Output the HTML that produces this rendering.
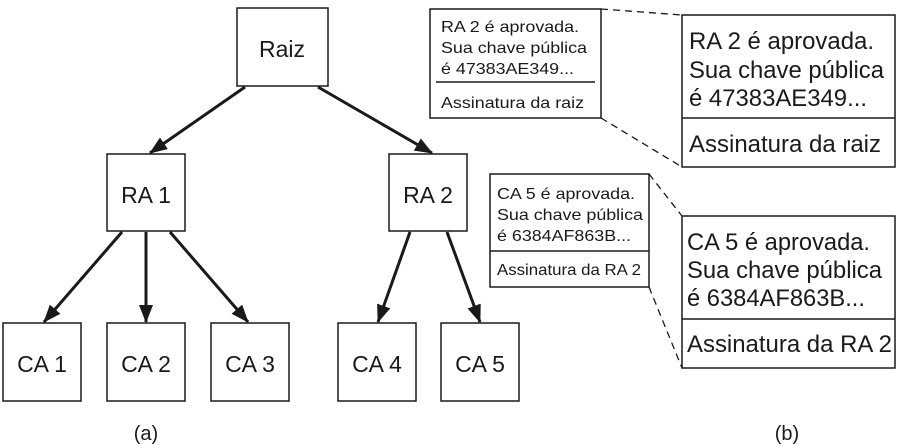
<!DOCTYPE html>
<html><head><meta charset="utf-8"><style>
html,body{margin:0;padding:0;background:#fff;}
svg{display:block;}
text{font-family:"Liberation Sans",sans-serif;fill:#1a1a1a;}
</style></head><body>
<svg width="900" height="445" viewBox="0 0 900 445" xmlns="http://www.w3.org/2000/svg">
<defs>
<marker id="b" markerWidth="18" markerHeight="14" refX="17" refY="7" orient="auto" markerUnits="userSpaceOnUse">
<path d="M0,0 L18,7 L0,14 Z" fill="#1a1a1a"/>
</marker>
</defs>
<g fill="#fff" stroke="#1a1a1a" stroke-width="1.5">
<rect x="237" y="8" width="91" height="78"/>
<rect x="107" y="154" width="78" height="77"/>
<rect x="389" y="154" width="78" height="77"/>
<rect x="3" y="323" width="78" height="78"/>
<rect x="107" y="323" width="78" height="78"/>
<rect x="211" y="323" width="78" height="78"/>
<rect x="338" y="323" width="78" height="78"/>
<rect x="441" y="323" width="78" height="78"/>
</g>
<g stroke="#1a1a1a" stroke-width="3" marker-end="url(#b)">
<line x1="245" y1="87" x2="150" y2="153"/>
<line x1="318" y1="87" x2="432" y2="153"/>
<line x1="122" y1="232" x2="44" y2="322"/>
<line x1="146" y1="232" x2="146" y2="322"/>
<line x1="170" y1="232" x2="248" y2="322"/>
<line x1="410" y1="232" x2="378" y2="322"/>
<line x1="447" y1="232" x2="480" y2="322"/>
</g>
<g font-size="23" text-anchor="middle">
<text x="282" y="57">Raiz</text>
<text x="146" y="203">RA 1</text>
<text x="428" y="203">RA 2</text>
<text x="42" y="372">CA 1</text>
<text x="146" y="372">CA 2</text>
<text x="250" y="372">CA 3</text>
<text x="377" y="372">CA 4</text>
<text x="480" y="372">CA 5</text>
<text x="146" y="440" font-size="20">(a)</text>
<text x="787" y="440" font-size="20">(b)</text>
</g>
<g fill="none" stroke="#1a1a1a" stroke-width="1.5">
<rect x="430" y="9" width="171" height="109"/>
<line x1="436" y1="82" x2="595" y2="82"/>
<rect x="682" y="15" width="213" height="152"/>
<line x1="682" y1="118" x2="895" y2="118"/>
<rect x="490" y="174" width="159" height="113"/>
<line x1="490" y1="251" x2="649" y2="251"/>
<rect x="682" y="216" width="213" height="152"/>
<line x1="682" y1="319" x2="895" y2="319"/>
</g>
<g stroke="#1a1a1a" stroke-width="1.3" stroke-dasharray="7,5">
<line x1="601" y1="9" x2="682" y2="15"/>
<line x1="601" y1="118" x2="682" y2="167"/>
<line x1="649" y1="174" x2="682" y2="216"/>
<line x1="649" y1="287" x2="682" y2="368"/>
</g>
<g font-size="16" lengthAdjust="spacingAndGlyphs">
<text x="441" y="32" textLength="138" lengthAdjust="spacingAndGlyphs">RA 2 é aprovada.</text>
<text x="441" y="53" textLength="146" lengthAdjust="spacingAndGlyphs">Sua chave pública</text>
<text x="441" y="74" textLength="133" lengthAdjust="spacingAndGlyphs">é 47383AE349...</text>
<text x="441" y="108" textLength="143" lengthAdjust="spacingAndGlyphs">Assinatura da raiz</text>
<text x="497" y="199" textLength="138" lengthAdjust="spacingAndGlyphs">CA 5 é aprovada.</text>
<text x="497" y="220" textLength="146" lengthAdjust="spacingAndGlyphs">Sua chave pública</text>
<text x="497" y="241" textLength="134" lengthAdjust="spacingAndGlyphs">é 6384AF863B...</text>
<text x="497" y="275" textLength="144" lengthAdjust="spacingAndGlyphs">Assinatura da RA 2</text>
</g>
<g font-size="24">
<text x="689" y="49" textLength="185" lengthAdjust="spacingAndGlyphs">RA 2 é aprovada.</text>
<text x="689" y="78" textLength="195" lengthAdjust="spacingAndGlyphs">Sua chave pública</text>
<text x="689" y="106" textLength="178" lengthAdjust="spacingAndGlyphs">é 47383AE349...</text>
<text x="689" y="152" textLength="192" lengthAdjust="spacingAndGlyphs">Assinatura da raiz</text>
<text x="687" y="250" textLength="183" lengthAdjust="spacingAndGlyphs">CA 5 é aprovada.</text>
<text x="687" y="278" textLength="195" lengthAdjust="spacingAndGlyphs">Sua chave pública</text>
<text x="687" y="306" textLength="178" lengthAdjust="spacingAndGlyphs">é 6384AF863B...</text>
<text x="687" y="352" textLength="205" lengthAdjust="spacingAndGlyphs">Assinatura da RA 2</text>
</g>
</svg>
</body></html>
